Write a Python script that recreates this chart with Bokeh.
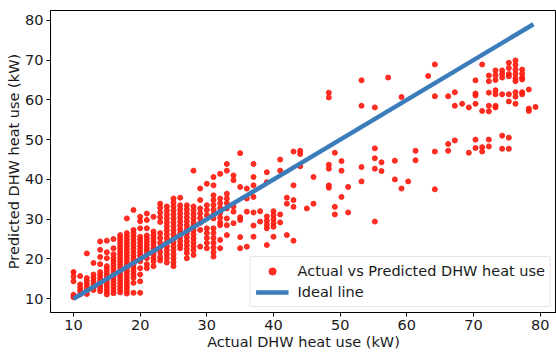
from bokeh.plotting import figure
from bokeh.models import FixedTicker, Range1d
from bokeh.embed import file_html
from bokeh.resources import INLINE

# ---- data: actual values (columns) and predicted values ----
actual_columns = [10, 11, 12, 13, 14, 15, 16, 17, 18, 19, 20, 21, 22, 23, 24, 25, 26, 27,
                  28, 29, 30, 31, 32, 33, 34, 35, 36, 37, 38, 39, 40, 41, 42, 43, 44, 45,
                  46, 48.3, 49.2, 50.2, 51.2, 53.2, 55.2, 56.2, 57.2, 58.2, 59.2, 60.2,
                  61.3, 63.2, 64.2, 66.2, 67.2, 68.3, 69.3, 70.3, 71.3, 72.3, 73.3, 74.3,
                  75.3, 76.3, 77.3, 78.3, 79.3]

predicted_columns = [
    [16.7, 15.6, 14.4, 11.0, 10.4],
    [15.7, 13.6, 12.8, 12.0, 11.1],
    [21.4, 15.2, 14.4, 13.6, 12.8, 12.0, 11.2],
    [19.0, 16.1, 15.3, 14.5, 13.7, 12.9, 12.2],
    [24.4, 22.3, 20.5, 18.7, 16.7, 15.9, 15.1, 14.3, 13.5, 12.7, 11.9],
    [24.6, 21.7, 20.2, 18.2, 17.4, 16.6, 15.8, 15.0, 14.2, 13.4, 12.6, 11.8, 11.1],
    [25.0, 22.7, 21.2, 20.2, 19.4, 18.6, 17.8, 17.0, 16.2, 15.4, 14.6, 13.8, 13.0, 12.2, 11.4],
    [26.0, 25.2, 24.4, 23.6, 22.8, 22.0, 21.2, 20.4, 19.6, 18.8, 18.0, 17.2, 16.4, 15.6,
     14.8, 14.0, 13.2, 12.4, 11.6],
    [30.2, 26.5, 25.7, 24.9, 24.1, 23.3, 22.5, 21.7, 20.9, 20.1, 19.3, 18.5, 17.7, 16.9,
     16.1, 15.3, 14.5, 13.7, 12.9, 12.1, 11.3],
    [32.3, 27.3, 26.5, 25.7, 24.9, 24.1, 23.3, 22.5, 21.7, 20.9, 20.1, 19.3, 18.5, 17.7,
     16.9, 16.1, 15.3, 14.0, 11.5],
    [30.6, 29.5, 27.7, 25.6, 24.8, 24.0, 23.2, 22.4, 21.6, 20.8, 20.0, 19.4, 17.7, 16.1,
     14.4, 11.5],
    [31.4, 29.8, 27.7, 25.9, 25.1, 24.3, 23.5, 22.7, 21.9, 21.1, 20.2, 18.7, 17.7],
    [30.6, 26.9, 26.0, 25.2, 24.4, 23.6, 22.7, 21.9, 21.1, 20.2, 19.4, 18.2],
    [33.9, 32.9, 31.7, 30.5, 29.3, 26.5, 25.3, 24.1, 22.9, 21.7, 20.5, 19.6],
    [33.2, 32.2, 31.2, 30.2, 29.2, 28.2, 27.2, 26.2, 25.2, 24.2, 23.2, 22.2, 21.2, 20.2, 19.1],
    [35.2, 34.2, 33.2, 32.2, 31.2, 30.2, 29.2, 28.2, 27.2, 26.2, 25.2, 24.2, 23.2, 22.2,
     21.2, 20.2, 19.2, 18.2],
    [35.4, 33.5, 32.5, 31.5, 30.5, 29.5, 28.5, 27.5, 26.5, 25.5, 24.5, 23.5, 22.7],
    [33.5, 32.5, 31.5, 30.5, 29.5, 28.5, 27.5, 26.5, 25.5, 24.5, 23.5, 22.5, 21.5, 20.2],
    [42.2, 33.2, 32.2, 31.2, 30.2, 29.2, 28.2, 27.2, 26.2, 25.2, 24.2, 23.2, 22.2, 21.0],
    [37.7, 34.8, 32.7, 31.5, 30.3, 29.1, 27.3, 23.1],
    [38.9, 33.5, 32.3, 31.0, 27.7, 26.5, 25.3, 24.0, 22.7],
    [40.6, 38.5, 36.0, 34.8, 33.6, 32.4, 31.2, 30.2, 27.7, 26.5, 25.3, 24.1, 22.9, 21.7, 20.6],
    [41.4, 35.2, 34.0, 32.8, 31.6, 30.4, 29.2, 28.5, 24.8, 22.7],
    [43.9, 42.2, 36.4, 35.2, 34.0, 32.7, 30.2, 28.5, 26.0],
    [41.0, 39.8, 33.2, 31.9, 29.0],
    [46.6, 38.1, 30.5, 29.8, 25.5, 22.7],
    [37.7, 35.2, 31.9, 23.1],
    [43.9, 40.6, 38.5, 35.6, 31.7, 28.4, 25.6],
    [32.0, 29.4],
    [41.8, 39.3, 30.7, 29.6, 28.6, 27.7, 23.5],
    [32.0, 31.0, 30.0, 29.0, 28.1, 25.6],
    [45.0, 42.2, 31.2, 29.2],
    [35.4, 33.9, 26.0],
    [47.0, 38.5, 34.8, 33.1, 24.6],
    [47.2, 46.4, 43.3],
    [32.7],
    [40.6, 33.9],
    [61.8, 60.6, 43.7, 42.7, 38.5, 37.9],
    [46.7, 33.1, 31.2],
    [44.6, 42.2, 35.6],
    [38.1, 31.7],
    [64.9, 58.5, 43.1, 39.5],
    [58.1, 47.8, 45.3, 42.7, 29.4],
    [44.3, 42.1],
    [65.6],
    [44.7, 40.0],
    [60.7, 37.7],
    [39.5],
    [47.2, 44.8],
    [66.0],
    [68.9, 60.9, 47.0, 37.5],
    [60.9, 48.9, 47.2],
    [61.9, 58.5, 49.8],
    [59.0],
    [58.1, 46.7],
    [64.9, 61.6, 61.1, 59.0, 50.0, 47.9],
    [68.9, 57.2, 48.1, 47.0],
    [66.1, 64.7, 61.8, 58.5, 57.1, 50.0, 48.3],
    [67.4, 66.2, 65.0, 62.4, 61.4, 58.5, 58.1],
    [67.4, 66.5, 65.6, 61.4, 51.0, 47.7],
    [69.3, 68.0, 66.5, 65.9, 61.4, 59.6, 50.5, 47.7],
    [69.9, 68.8, 67.6, 66.5, 65.4, 64.7, 61.9, 60.8, 59.0],
    [67.6, 66.6, 65.6, 65.1, 61.9, 61.4],
    [62.6, 57.8, 57.2],
    [58.2],
]

ideal_line = [10, 79]
tick_values = [10, 20, 30, 40, 50, 60, 70, 80]

actual = []
predicted = []
for a, ys in zip(actual_columns, predicted_columns):
    for yv in ys:
        actual.append(a)
        predicted.append(yv)

FONT = "DejaVu Sans"
RED = "#ff1a0d"

p = figure(width=556, height=352, output_backend="svg", toolbar_location=None,
           x_range=Range1d(6.55, 82.45), y_range=Range1d(6.55, 82.45),
           min_border_left=50, min_border_right=0, min_border_top=10, min_border_bottom=37)

p.scatter(actual, predicted, size=5, color=RED, alpha=0.9)
# legend entry uses a smaller marker (drawn over an existing point), as in the reference
p.scatter(actual[:1], predicted[:1], size=4, color=RED, alpha=0.9,
          legend_label="Actual vs Predicted DHW heat use")
p.line(ideal_line, ideal_line, line_width=4.5, color="#3b7dbb",
       legend_label="Ideal line")

p.xgrid.visible = False
p.ygrid.visible = False
p.outline_line_color = "black"
p.outline_line_width = 1
p.background_fill_color = "white"
p.border_fill_color = "white"

for ax in (p.xaxis[0], p.yaxis[0]):
    ax.ticker = FixedTicker(ticks=tick_values)
    ax.major_tick_out = 4
    ax.major_tick_in = 0
    ax.minor_tick_out = 0
    ax.minor_tick_in = 0
    ax.major_label_text_font = FONT
    ax.major_label_text_font_size = "14.5px"
    ax.major_label_text_color = "#1a1a1a"
    ax.axis_label_text_font = FONT
    ax.axis_label_text_font_size = "14.5px"
    ax.axis_label_text_font_style = "normal"
    ax.axis_label_text_color = "#1a1a1a"
    ax.axis_line_color = "black"
    ax.major_tick_line_color = "black"
    ax.major_label_standoff = 3

p.xaxis.axis_label = "Actual DHW heat use (kW)"
p.yaxis.axis_label = "Predicted DHW heat use (kW)"
p.xaxis.axis_label_standoff = 1
p.yaxis.axis_label_standoff = 0

lg = p.legend[0]
lg.location = "bottom_right"
lg.label_text_font = FONT
lg.label_text_font_size = "14.5px"
lg.label_text_color = "#1a1a1a"
lg.glyph_width = 33
lg.glyph_height = 18
lg.label_height = 18
lg.label_standoff = 9
lg.padding = 5
lg.spacing = 3
lg.margin = 5
lg.border_line_color = "#d0d0d0"
lg.border_line_width = 1
lg.background_fill_alpha = 0.8

open("out.html", "w").write(file_html(p, INLINE))
